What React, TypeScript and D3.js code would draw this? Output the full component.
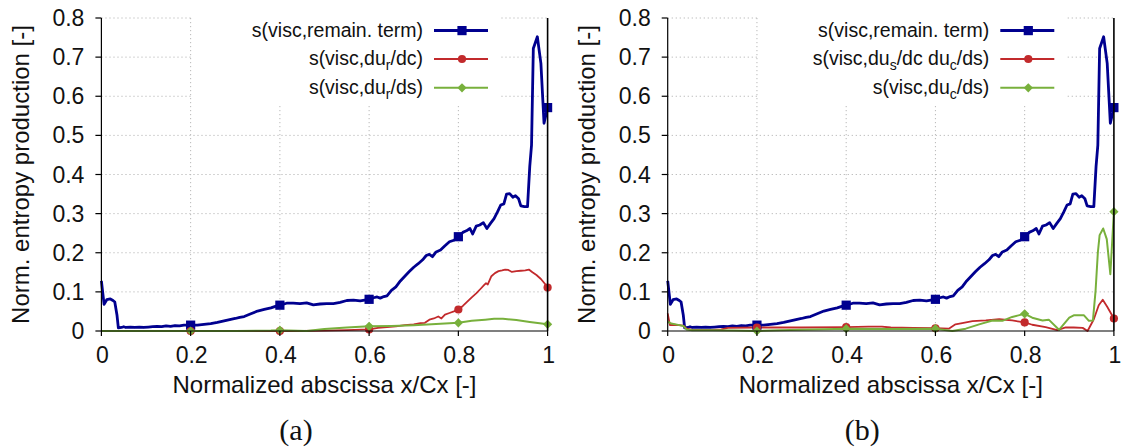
import React from "react";
import * as d3 from "d3";

// ---------- data ----------
const xTickValues = [0, 0.2, 0.4, 0.6, 0.8, 1];
const xTickLabels = ["0", "0.2", "0.4", "0.6", "0.8", "1"];
const yTickValues = [0, 0.1, 0.2, 0.3, 0.4, 0.5, 0.6, 0.7, 0.8];
const yTickLabels = ["0", "0.1", "0.2", "0.3", "0.4", "0.5", "0.6", "0.7", "0.8"];
const markerXs = [0.2, 0.4, 0.6, 0.8, 1.0];

// s(visc, remain. term) — identical in both panels
const remainX = [
  0.0, 0.006, 0.012, 0.02, 0.026, 0.03, 0.035, 0.038, 0.045, 0.05, 0.055, 0.065, 0.075, 0.085, 0.095,
  0.105, 0.115, 0.125, 0.135, 0.145, 0.155, 0.165, 0.175, 0.185, 0.2, 0.215, 0.23, 0.245, 0.26, 0.275,
  0.29, 0.3, 0.31, 0.32, 0.335, 0.35, 0.365, 0.38, 0.39, 0.4, 0.415, 0.43, 0.445, 0.46, 0.475, 0.49,
  0.505, 0.52, 0.535, 0.55, 0.565, 0.58, 0.6, 0.61, 0.618, 0.625, 0.633, 0.64, 0.65, 0.66, 0.67, 0.68,
  0.69, 0.7, 0.71, 0.72, 0.728, 0.735, 0.742, 0.75, 0.76, 0.77, 0.78, 0.79, 0.8, 0.81, 0.818, 0.826,
  0.832, 0.84, 0.848, 0.856, 0.864, 0.872, 0.88, 0.888, 0.895, 0.902, 0.908, 0.915, 0.922, 0.928,
  0.935, 0.94, 0.948, 0.955, 0.96, 0.964, 0.968, 0.977, 0.985, 0.992, 1.0,
];
const remainY = [
  0.128, 0.068, 0.08, 0.082, 0.078, 0.074, 0.04, 0.008, 0.009, 0.011, 0.009, 0.01, 0.009, 0.01, 0.009,
  0.01, 0.011, 0.012, 0.011, 0.013, 0.012, 0.014, 0.013, 0.015, 0.015, 0.015, 0.017, 0.019, 0.022, 0.026,
  0.03, 0.032, 0.035, 0.037, 0.044, 0.051, 0.055, 0.059, 0.063, 0.066, 0.071, 0.071, 0.07, 0.072, 0.067, 0.069,
  0.07, 0.07, 0.073, 0.078, 0.079, 0.077, 0.081, 0.085, 0.087, 0.084, 0.088, 0.09, 0.104, 0.113, 0.128, 0.14,
  0.152, 0.163, 0.172, 0.182, 0.193, 0.196, 0.19, 0.202, 0.207, 0.218, 0.228, 0.232, 0.241, 0.252, 0.256, 0.262,
  0.248, 0.268, 0.271, 0.277, 0.262, 0.275, 0.287, 0.305, 0.322, 0.325, 0.35, 0.351, 0.342, 0.346,
  0.338, 0.32, 0.318, 0.318, 0.42, 0.475, 0.722, 0.752, 0.684, 0.531, 0.571,
];

// panel (a): s(visc, du_r/dc)
const aRedX = [
  0.0, 0.1, 0.2, 0.3, 0.4, 0.45, 0.5, 0.55, 0.6, 0.62, 0.64, 0.66, 0.68, 0.7, 0.715, 0.725, 0.735, 0.745,
  0.755, 0.762, 0.77, 0.78, 0.79, 0.8, 0.81, 0.82, 0.83, 0.84, 0.85, 0.858, 0.862, 0.866, 0.874, 0.882,
  0.89, 0.898, 0.905, 0.912, 0.92, 0.93, 0.94, 0.95, 0.958, 0.966, 0.975, 0.985, 0.993, 1.0,
];
const aRedY = [
  0.0, 0.0, 0.0, 0.0, 0.0, 0.0, 0.001, 0.002, 0.004, 0.008, 0.01, 0.012, 0.015, 0.017, 0.02, 0.021, 0.029, 0.032,
  0.037, 0.032, 0.042, 0.046, 0.05, 0.055, 0.064, 0.075, 0.086, 0.096, 0.108, 0.118, 0.122, 0.119, 0.14, 0.148,
  0.153, 0.155, 0.157, 0.156, 0.151, 0.153, 0.154, 0.155, 0.157, 0.15, 0.143, 0.133, 0.122, 0.111,
];
// panel (a): s(visc, du_r/ds)
const aGreenX = [
  0.0, 0.1, 0.2, 0.3, 0.38, 0.4, 0.42, 0.46, 0.5, 0.55, 0.6, 0.65, 0.7, 0.75, 0.8, 0.83, 0.86, 0.88, 0.9,
  0.93, 0.96, 1.0,
];
const aGreenY = [
  0.0, 0.0, 0.0, 0.0, 0.001, 0.002, 0.001, 0.0, 0.005, 0.009, 0.012, 0.013, 0.015, 0.018, 0.021, 0.026, 0.029,
  0.031, 0.031, 0.028, 0.023, 0.017,
];

// panel (b): s(visc, du_s/dc du_c/ds)
const bRedX = [
  0.0, 0.005, 0.015, 0.025, 0.035, 0.042, 0.055, 0.1, 0.12, 0.135, 0.2, 0.3, 0.4, 0.45, 0.48, 0.5, 0.55, 0.6,
  0.63, 0.645, 0.66, 0.683, 0.713, 0.743, 0.772, 0.8, 0.817, 0.847, 0.873, 0.892, 0.91, 0.93, 0.941, 0.955,
  0.966, 0.975, 0.985, 1.0,
];
const bRedY = [
  0.045, 0.015, 0.016, 0.015, 0.014, 0.006, 0.003, 0.003, 0.004, 0.008, 0.009, 0.009, 0.01, 0.011, 0.011, 0.009,
  0.008, 0.007, 0.006, 0.017, 0.02, 0.025, 0.027, 0.03, 0.027, 0.022, 0.016, 0.01, 0.002, 0.009, 0.009, 0.008,
  0.0, 0.03, 0.066, 0.08, 0.062, 0.032,
];
// panel (b): s(visc, du_c/ds)
const bGreenX = [
  0.0, 0.008, 0.026, 0.035, 0.042, 0.055, 0.1, 0.15, 0.2, 0.25, 0.3, 0.4, 0.5, 0.6, 0.638, 0.668, 0.698, 0.728,
  0.75, 0.772, 0.786, 0.8, 0.817, 0.84, 0.854, 0.877, 0.9, 0.91, 0.933, 0.944, 0.953, 0.959, 0.964, 0.968,
  0.976, 0.984, 0.992, 1.0,
];
const bGreenY = [
  0.024, 0.019, 0.015, 0.013, 0.004, 0.002, 0.002, 0.001, 0.0, 0.002, 0.003, 0.006, 0.005, 0.006, 0.0, 0.006,
  0.017, 0.027, 0.026, 0.036, 0.04, 0.044, 0.034, 0.027, 0.029, 0.003, 0.034, 0.04, 0.04, 0.026, 0.027, 0.104,
  0.2, 0.245, 0.262, 0.235, 0.145, 0.305,
];

const legendRemain = [{ t: "s(visc,remain. term)" }];
const legendARed = [{ t: "s(visc,du" }, { t: "r", sub: true }, { t: "/dc)" }];
const legendAGreen = [{ t: "s(visc,du" }, { t: "r", sub: true }, { t: "/ds)" }];
const legendBRed = [
  { t: "s(visc,du" }, { t: "s", sub: true }, { t: "/dc du" }, { t: "c", sub: true }, { t: "/ds)" },
];
const legendBGreen = [{ t: "s(visc,du" }, { t: "c", sub: true }, { t: "/ds)" }];

// ---------- styling ----------
const BLUE = "#00008f";
const RED = "#c22a2c";
const GREEN = "#78b03c";
const SANS = "'Liberation Sans', Arial, Helvetica, sans-serif";
const SERIF = "'Liberation Serif', 'Times New Roman', serif";

type Part = { t: string; sub?: boolean };
type Series = { xs: number[]; ys: number[]; color: string; width: number; marker: string; label: Part[] };

function Marker({ shape, cx, cy, color }: { shape: string; cx: number; cy: number; color: string }) {
  if (shape === "square") return <rect x={cx - 4.6} y={cy - 4.6} width={9.2} height={9.2} fill={color} />;
  if (shape === "circle") return <circle cx={cx} cy={cy} r={4.1} fill={color} />;
  const s = 4.6;
  return <path d={`M${cx},${cy - s}L${cx + s},${cy}L${cx},${cy + s}L${cx - s},${cy}Z`} fill={color} />;
}

function Panel({ ox, series, caption }: { ox: number; series: Series[]; caption: string }) {
  const left = ox + 101.4;
  const right = ox + 547.6;
  const top = 18;
  const bottom = 331;
  const x = d3.scaleLinear().domain([0, 1]).range([left, right]);
  const y = d3.scaleLinear().domain([0, 0.8]).range([bottom, top]);
  const line = d3
    .line<[number, number]>()
    .x((d) => x(d[0]))
    .y((d) => y(d[1]));
  const clipId = `clip-${ox}`;
  const legendRowsY = [30.6, 59.0, 87.8];
  const legTextX = right - 124.6;
  const legLineX1 = right - 113.6;
  const legLineX2 = right - 59.6;
  const legMarkX = right - 85.6;

  return (
    <g>
      <defs>
        <clipPath id={clipId}>
          <rect x={left - 6} y={top - 6} width={right - left + 12} height={bottom - top + 12} />
        </clipPath>
      </defs>
      {/* grid */}
      {yTickValues.slice(1).map((v) => (
        <line key={"gy" + v} x1={left} x2={right} y1={y(v)} y2={y(v)} stroke="#b8b8b8" strokeWidth={1} strokeDasharray="1.2,2.8" />
      ))}
      {xTickValues.slice(1, 5).map((v) => (
        <line key={"gx" + v} x1={x(v)} x2={x(v)} y1={top} y2={bottom} stroke="#b8b8b8" strokeWidth={1} strokeDasharray="1.2,2.8" />
      ))}
      {/* legend box (opaque) */}
      <rect x={x(0.2) + 1.5} y={top - 1} width={right - 47.6 - x(0.2) - 1.5} height={104 - top + 1} fill="#fff" />
      {/* data */}
      <g clipPath={`url(#${clipId})`}>
        {series.map((s, i) => (
          <path
            key={"l" + i}
            d={line(s.xs.map((v, j) => [v, s.ys[j]] as [number, number])) || ""}
            fill="none"
            stroke={s.color}
            strokeWidth={s.width}
            strokeLinejoin="round"
          />
        ))}
        {series.map((s, i) =>
          s.xs.map((v, j) =>
            markerXs.includes(v) ? <Marker key={`m${i}-${j}`} shape={s.marker} cx={x(v)} cy={y(s.ys[j])} color={s.color} /> : null
          )
        )}
      </g>
      {/* axes */}
      <line x1={left} x2={left} y1={top} y2={bottom} stroke="#000" strokeWidth={1.2} />
      <line x1={left} x2={right} y1={bottom} y2={bottom} stroke="#000" strokeWidth={1.2} />
      <line x1={right} x2={right} y1={top} y2={bottom} stroke="#000" strokeWidth={1.6} />
      {yTickValues.map((v, i) => (
        <g key={"yt" + v}>
          <line x1={left - 6} x2={left} y1={y(v)} y2={y(v)} stroke="#000" strokeWidth={1.2} />
          <text x={left - 17} y={y(v)} dy="0.35em" textAnchor="end" fontFamily={SANS} fontSize={23} fill="#111">
            {yTickLabels[i]}
          </text>
        </g>
      ))}
      {xTickValues.map((v, i) => (
        <g key={"xt" + v}>
          <line x1={x(v)} x2={x(v)} y1={bottom} y2={bottom + 5} stroke="#000" strokeWidth={1.2} />
          <text x={x(v) + 1} y={bottom + 31.5} textAnchor="middle" fontFamily={SANS} fontSize={23} fill="#111">
            {xTickLabels[i]}
          </text>
        </g>
      ))}
      {/* axis titles */}
      <text x={(left + right) / 2} y={392.5} textAnchor="middle" fontFamily={SANS} fontSize={24} fill="#111">
        Normalized abscissa x/Cx [-]
      </text>
      <text
        transform={`translate(${ox + 28.5},${(top + bottom) / 2}) rotate(-90)`}
        textAnchor="middle"
        fontFamily={SANS}
        fontSize={24}
        fill="#111"
      >
        Norm. entropy production [-]
      </text>
      {/* legend */}
      {series.map((s, i) => (
        <g key={"lg" + i}>
          <text x={legTextX} y={legendRowsY[i] + 6} textAnchor="end" fontFamily={SANS} fontSize={19.5} fill="#111">
            {s.label.map((p, k) => {
              const prevSub = k > 0 && s.label[k - 1].sub;
              const dy = p.sub ? 5 : prevSub ? -5 : 0;
              return (
                <tspan key={k} dy={dy} fontSize={p.sub ? 14 : 19.5}>
                  {p.t}
                </tspan>
              );
            })}
          </text>
          <line x1={legLineX1} x2={legLineX2} y1={legendRowsY[i]} y2={legendRowsY[i]} stroke={s.color} strokeWidth={i === 0 ? 3 : 2} />
          <Marker shape={s.marker} cx={legMarkX} cy={legendRowsY[i]} color={s.color} />
        </g>
      ))}
      {/* caption */}
      <text x={(left + right) / 2 - 28.5} y={440} textAnchor="middle" fontFamily={SERIF} fontSize={30} fill="#111">
        {caption}
      </text>
    </g>
  );
}

export default function App() {
  const panelA: Series[] = [
    { xs: remainX, ys: remainY, color: BLUE, width: 2.8, marker: "square", label: legendRemain },
    { xs: aRedX, ys: aRedY, color: RED, width: 1.8, marker: "circle", label: legendARed },
    { xs: aGreenX, ys: aGreenY, color: GREEN, width: 2, marker: "diamond", label: legendAGreen },
  ];
  const panelB: Series[] = [
    { xs: remainX, ys: remainY, color: BLUE, width: 2.8, marker: "square", label: legendRemain },
    { xs: bRedX, ys: bRedY, color: RED, width: 1.8, marker: "circle", label: legendBRed },
    { xs: bGreenX, ys: bGreenY, color: GREEN, width: 2, marker: "diamond", label: legendBGreen },
  ];
  return (
    <svg
      width={1122}
      height={447}
      viewBox="0 0 1122 447"
      style={{ position: "absolute", left: 0, top: 0, background: "#fff" }}
    >
      <rect x={0} y={0} width={1122} height={447} fill="#fff" />
      <Panel ox={0} series={panelA} caption="(a)" />
      <Panel ox={566.3} series={panelB} caption="(b)" />
    </svg>
  );
}
